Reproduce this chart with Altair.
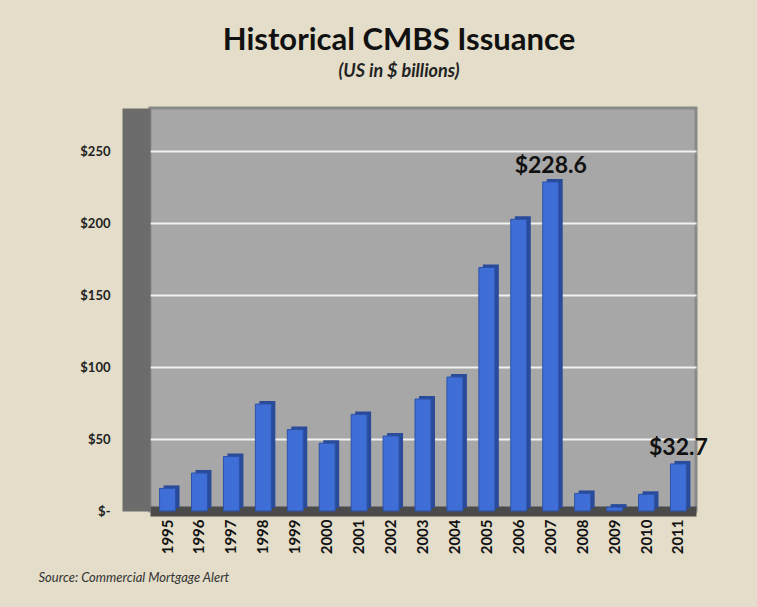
import altair as alt
import pandas as pd

years = ["1995", "1996", "1997", "1998", "1999", "2000", "2001", "2002", "2003",
         "2004", "2005", "2006", "2007", "2008", "2009", "2010", "2011"]
issuance = [15.7, 26.4, 37.8, 74.3, 56.6, 47.1, 67.1, 52.1, 77.8,
            93.1, 169.2, 202.7, 228.6, 12.2, 2.7, 11.6, 32.7]
labelled_years = ["2007", "2011"]
y_ticks = [0, 50, 100, 150, 200, 250]

df = pd.DataFrame({"year": years, "value": issuance})
df["label"] = ["$" + f"{v:.1f}" if y in labelled_years else "" for y, v in zip(years, issuance)]

FONT = "Lato"

base = alt.Chart(df).encode(
    x=alt.X(
        "year:N",
        sort=years,
        scale=alt.Scale(paddingInner=0.5, paddingOuter=0.3),
        axis=alt.Axis(
            title="Source:  Commercial Mortgage Alert",
            titleFont=FONT,
            titleFontStyle="italic",
            titleFontWeight="normal",
            titleFontSize=13,
            titleColor="#333333",
            titleAnchor="start",
            titleX=-112,
            titlePadding=18,
            labelAngle=-90,
            labelFont=FONT,
            labelFontWeight="bold",
            labelFontSize=15,
            labelColor="#111111",
            labelPadding=8,
            domainColor="#4a4a4a",
            domainWidth=10,
            ticks=False,
        ),
    ),
    y=alt.Y(
        "value:Q",
        scale=alt.Scale(domain=[0, 280], nice=False),
        axis=alt.Axis(
            title=None,
            values=y_ticks,
            labelExpr="datum.value == 0 ? '$-' : '$' + datum.value",
            labelFont=FONT,
            labelFontWeight="bold",
            labelFontSize=13,
            labelColor="#222222",
            labelPadding=26,
            gridColor="#F2F2F2",
            gridWidth=2,
            domain=True,
            domainColor="#6C6C6C",
            domainWidth=28,
            offset=14,
            ticks=False,
        ),
    ),
)

shadow = base.mark_bar(color="#2A4A9A", xOffset=4, yOffset=-3)
bars = base.mark_bar(color="#3E6ED6", stroke="#2C52A8", strokeWidth=1)
labels = base.mark_text(
    dy=-16, font=FONT, fontWeight="bold", fontSize=23, color="#111111"
).encode(text="label:N")

chart = (
    alt.layer(shadow, bars, labels)
    .properties(
        width=757,
        height=607,
        autosize=alt.AutoSizeParams(type="fit", contains="padding"),
        padding={"left": 38, "right": 55, "top": 25, "bottom": 22},
        background="#E3DDC9",
        title=alt.TitleParams(
            text="Historical CMBS Issuance",
            subtitle="(US in $ billions)",
            font=FONT,
            fontSize=31,
            fontWeight="bold",
            color="#111111",
            subtitleFont=FONT,
            subtitleFontSize=18,
            subtitleFontStyle="italic",
            subtitleFontWeight="bold",
            subtitleColor="#222222",
            subtitlePadding=6,
            anchor="middle",
            dx=-24,
            offset=26,
        ),
    )
    .configure_view(fill="#A7A7A7", stroke="#8A8A8A", strokeWidth=3)
)

chart.save("out.html", embed_options={"renderer": "svg", "actions": False})
